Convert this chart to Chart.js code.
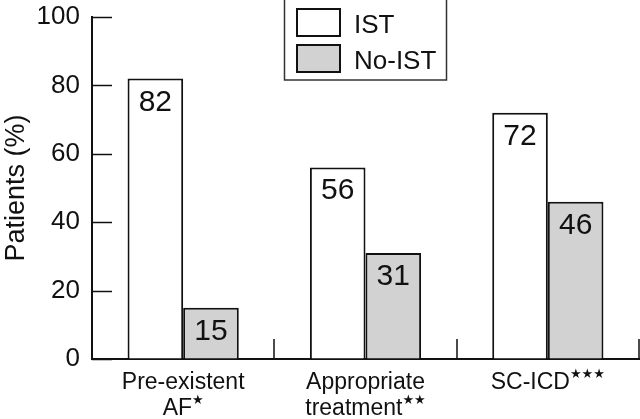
<!DOCTYPE html>
<html>
<head>
<meta charset="utf-8">
<script src="https://cdn.jsdelivr.net/npm/chart.js@4.4.0/dist/chart.umd.min.js"></script>
<style>
  html, body { margin: 0; padding: 0; background: #fff; }
  #wrap { width: 640px; height: 419px; }
</style>
</head>
<body>
<div id="wrap"><canvas id="chart"></canvas></div>
<script>
// chart data
const categories = [['Pre-existent', 'AF'], ['Appropriate', 'treatment'], ['SC-ICD']];
const categoryStars = ['★', '★★', '★★★'];
const seriesNames = ['IST', 'No-IST'];
const istValues = [82, 56, 72];
const noIstValues = [15, 31, 46];
const yTickValues = [0, 20, 40, 60, 80, 100];

const FONT = '"Liberation Sans", Arial, sans-serif';
const ink = '#111';

// inward ticks, value labels, category labels and the boxed legend
const extras = {
  id: 'extras',
  afterDatasetsDraw(chart) {
    const ctx = chart.ctx;
    const area = chart.chartArea;
    const xs = chart.scales.x, ys = chart.scales.y;
    ctx.save();
    ctx.strokeStyle = ink;
    ctx.lineWidth = 1.5;
    ctx.beginPath();
    yTickValues.forEach(v => {
      const y = Math.round(ys.getPixelForValue(v)) + 0.5;
      ctx.moveTo(area.left, y); ctx.lineTo(area.left + 20, y);
    });
    categories.forEach((c, i) => {
      const x = Math.round(xs.getPixelForValue(i + 0.5));
      ctx.moveTo(x, area.bottom); ctx.lineTo(x, area.bottom - 20);
    });
    ctx.stroke();

    // values inside the bars
    ctx.fillStyle = ink;
    ctx.font = '30px ' + FONT;
    ctx.textAlign = 'center';
    ctx.textBaseline = 'alphabetic';
    chart.data.datasets.forEach((ds, di) => {
      chart.getDatasetMeta(di).data.forEach((bar, i) => {
        ctx.fillText(String(ds.data[i]), bar.x, bar.y + 32);
      });
    });

    // category labels with superscript stars
    ctx.textAlign = 'left';
    categories.forEach((lines, i) => {
      const cx = xs.getPixelForValue(i);
      lines.forEach((txt, li) => {
        const base = 389 + li * 26;
        ctx.font = '23px ' + FONT;
        const w = ctx.measureText(txt).width;
        let sw = 0;
        const last = li === lines.length - 1;
        if (last) {
          ctx.font = '13px "DejaVu Sans"';
          sw = ctx.measureText(categoryStars[i]).width;
        }
        const x0 = cx - (w + sw) / 2;
        ctx.font = '23px ' + FONT;
        ctx.fillText(txt, x0, base);
        if (last) {
          ctx.font = '13px "DejaVu Sans"';
          ctx.fillText(categoryStars[i], x0 + w, base - 11);
        }
      });
    });

    // legend
    ctx.lineWidth = 1.5;
    ctx.strokeStyle = '#333';
    ctx.strokeRect(284.5, -2, 162, 82);
    ctx.font = '26px ' + FONT;
    chart.data.datasets.forEach((ds, di) => {
      const top = 9 + di * 36;
      ctx.fillStyle = ds.backgroundColor;
      ctx.fillRect(297, top, 43, 27);
      ctx.lineWidth = 2;
      ctx.strokeStyle = ink;
      ctx.strokeRect(297, top, 43, 27);
      ctx.fillStyle = ink;
      ctx.fillText(ds.label, 354, top + 24);
    });
    ctx.restore();
  }
};

new Chart(document.getElementById('chart'), {
  type: 'bar',
  data: {
    labels: categories,
    datasets: [
      { label: seriesNames[0], data: istValues, backgroundColor: '#ffffff', borderColor: ink, borderWidth: 2,
        barPercentage: 1, categoryPercentage: 0.61 },
      { label: seriesNames[1], data: noIstValues, backgroundColor: '#d2d2d2', borderColor: ink, borderWidth: 2,
        barPercentage: 1, categoryPercentage: 0.61 }
    ]
  },
  options: {
    responsive: true,
    maintainAspectRatio: false,
    animation: false,
    devicePixelRatio: 1,
    layout: { padding: { top: 17, right: 1, left: 0, bottom: 0 } },
    plugins: { legend: { display: false }, tooltip: { enabled: false } },
    scales: {
      x: {
        grid: { display: true, drawOnChartArea: false, drawTicks: false },
        border: { display: true, color: ink, width: 2 },
        ticks: { display: false },
        afterFit: s => { s.height = 60; }
      },
      y: {
        min: 0, max: 100,
        grid: { display: true, drawOnChartArea: false, drawTicks: false },
        border: { display: true, color: ink, width: 2 },
        ticks: { stepSize: 20, color: ink, padding: 12, font: { family: FONT, size: 26 } },
        title: { display: true, text: 'Patients (%)', color: ink, padding: 0, font: { family: FONT, size: 27 } },
        afterFit: s => { s.width = 92; s.paddingTop = 0; s.paddingBottom = 0; }
      }
    }
  },
  plugins: [extras]
});
</script>
</body>
</html>
